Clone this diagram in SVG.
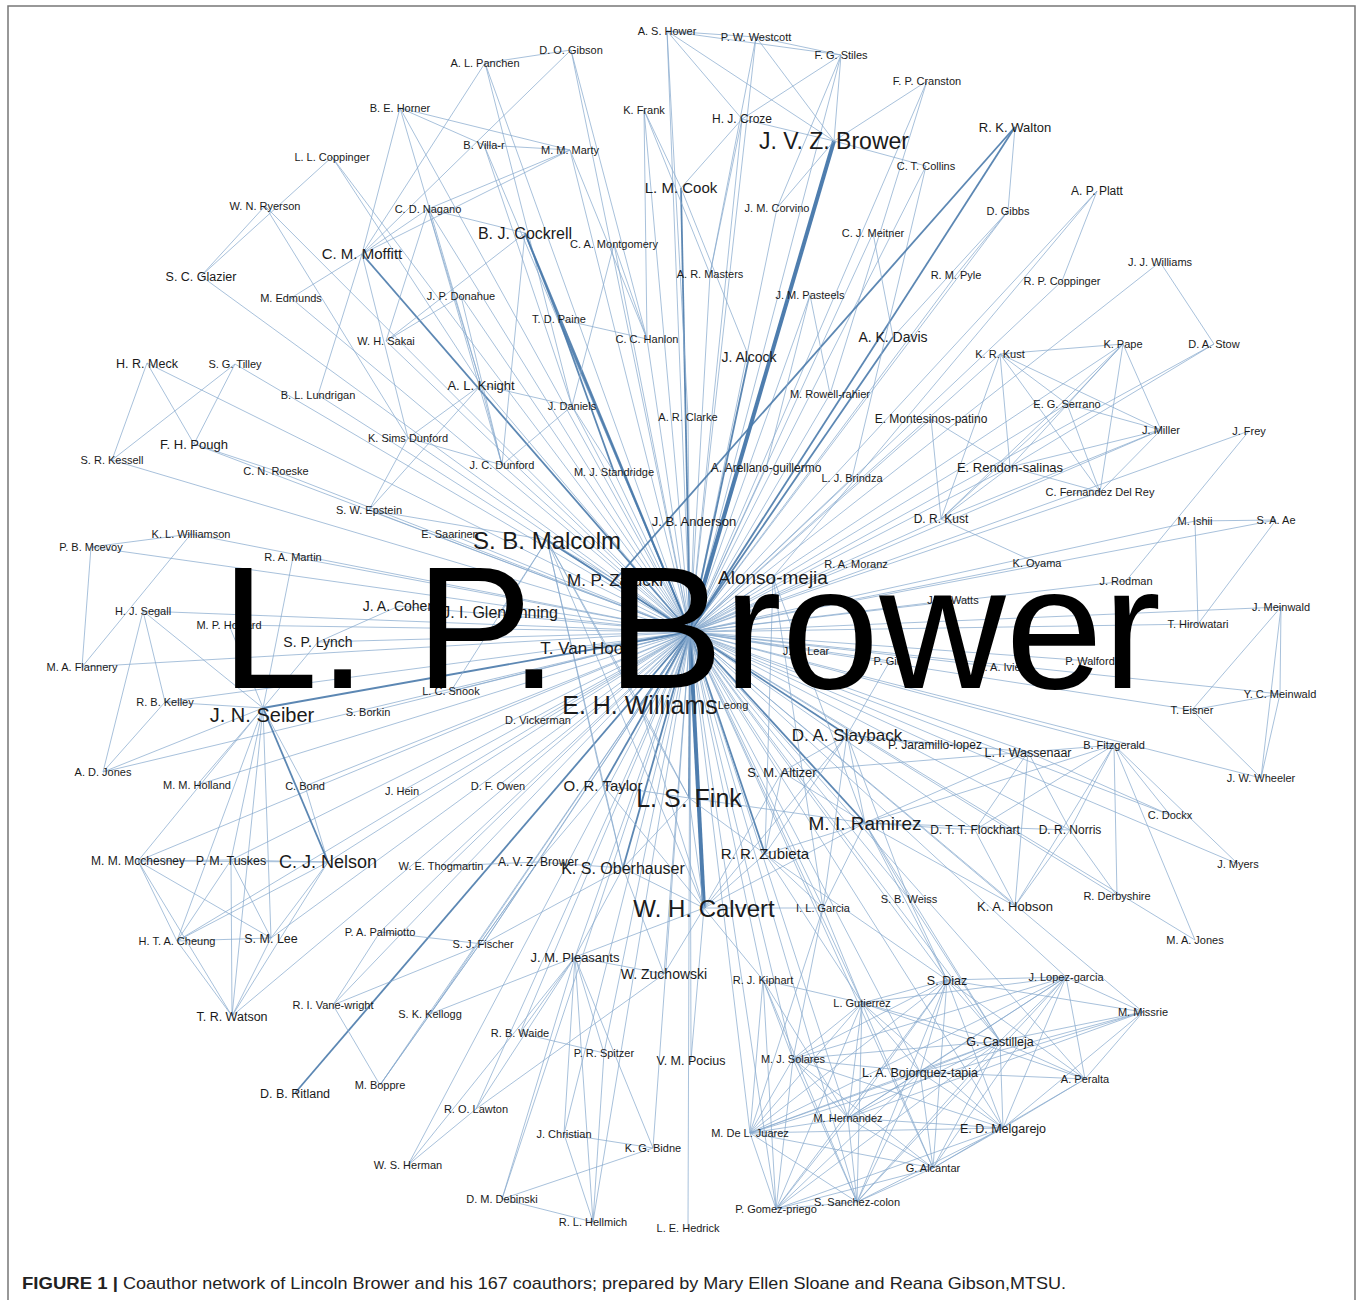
<svg xmlns="http://www.w3.org/2000/svg" width="1360" height="1300" viewBox="0 0 1360 1300">
<style>
#edges path{fill:none;stroke:#86a9cd;stroke-width:0.8;stroke-opacity:0.9}
#edges path.d{stroke:#4a7aab;stroke-width:1.8}
#edges path.D{stroke:#3b6fa5;stroke-width:4}
text{font-family:"Liberation Sans",Arial,Helvetica,sans-serif;fill:#1a1a1a;text-anchor:middle;font-size:11px}
.f12{font-size:12px}.f125{font-size:12.5px}.f13{font-size:13px}.f14{font-size:14px}.f15{font-size:15px}.f16{font-size:16px}.f17{font-size:17px}.f18{font-size:18px}.f19{font-size:19px}.f20{font-size:20px}.f23{font-size:23px}.f24{font-size:24px}.f25{font-size:25px}
.hub{font-size:175px;fill:#000}
.cap{text-anchor:start;font-size:17px;fill:#222}
</style>
<rect width="1360" height="1300" fill="#fff"/>
<path d="M8 1300V6H1355V1300" fill="none" stroke="#777" stroke-width="1.5"/>
<g id="edges">
<!-- hub edges -->
<path d="M690 632L667 31"/><path d="M690 632L756 37"/><path d="M690 632L571 50"/><path d="M690 632L485 63"/><path d="M690 632L841 55"/><path d="M690 632L927 81"/><path d="M690 632L400 108"/><path d="M690 632L644 110"/><path d="M690 632L742 119"/><path class="d" d="M690 632L1015 127"/><path class="D" d="M690 632L834 141"/><path d="M690 632L484 145"/><path d="M690 632L570 150"/><path d="M690 632L332 157"/><path d="M690 632L926 166"/><path class="d" d="M690 632L681 188"/><path d="M690 632L1097 191"/><path d="M690 632L265 206"/><path d="M690 632L428 209"/><path d="M690 632L777 208"/><path d="M690 632L1008 211"/><path class="d" d="M690 632L525 233"/><path d="M690 632L873 233"/><path d="M690 632L614 244"/><path class="d" d="M690 632L362 254"/><path d="M690 632L1160 262"/><path d="M690 632L710 274"/><path d="M690 632L956 275"/><path d="M690 632L201 276"/><path d="M690 632L1062 281"/><path d="M690 632L291 298"/><path d="M690 632L461 296"/><path d="M690 632L810 295"/><path class="d" d="M690 632L559 319"/><path d="M690 632L647 339"/><path d="M690 632L386 341"/><path class="d" d="M690 632L893 337"/><path d="M690 632L1000 354"/><path d="M690 632L1123 344"/><path d="M690 632L1214 344"/><path class="d" d="M690 632L749 357"/><path d="M690 632L147 363"/><path d="M690 632L235 364"/><path d="M690 632L481 385"/><path d="M690 632L830 394"/><path d="M690 632L318 395"/><path d="M690 632L1067 404"/><path d="M690 632L572 406"/><path d="M690 632L688 417"/><path d="M690 632L931 419"/><path d="M690 632L1161 430"/><path d="M690 632L1249 431"/><path d="M690 632L408 438"/><path d="M690 632L194 444"/><path d="M690 632L112 460"/><path d="M690 632L276 471"/><path d="M690 632L502 465"/><path d="M690 632L614 472"/><path d="M690 632L766 468"/><path d="M690 632L1010 467"/><path d="M690 632L852 478"/><path d="M690 632L1100 492"/><path d="M690 632L369 510"/><path d="M690 632L941 519"/><path d="M690 632L694 521"/><path d="M690 632L1195 521"/><path d="M690 632L1276 520"/><path d="M690 632L191 534"/><path d="M690 632L450 534"/><path class="d" d="M690 632L547 540"/><path d="M690 632L91 547"/><path d="M690 632L293 557"/><path d="M690 632L856 564"/><path d="M690 632L1037 563"/><path d="M690 632L615 580"/><path d="M690 632L773 577"/><path d="M690 632L1126 581"/><path d="M690 632L953 600"/><path d="M690 632L399 606"/><path d="M690 632L500 612"/><path d="M690 632L143 611"/><path d="M690 632L1281 607"/><path d="M690 632L229 625"/><path d="M690 632L1198 624"/><path d="M690 632L318 642"/><path d="M690 632L586 648"/><path d="M690 632L82 667"/><path d="M690 632L806 651"/><path d="M690 632L890 661"/><path d="M690 632L998 667"/><path d="M690 632L1090 661"/><path d="M690 632L451 691"/><path d="M690 632L165 702"/><path class="d" d="M690 632L263 708"/><path class="d" d="M690 632L640 705"/><path d="M690 632L733 705"/><path d="M690 632L368 712"/><path d="M690 632L538 720"/><path class="d" d="M690 632L847 735"/><path d="M690 632L935 745"/><path d="M690 632L1028 752"/><path d="M690 632L1114 745"/><path d="M690 632L1280 694"/><path d="M690 632L1192 710"/><path d="M690 632L103 772"/><path d="M690 632L782 772"/><path d="M690 632L1261 778"/><path d="M690 632L197 785"/><path d="M690 632L305 786"/><path d="M690 632L402 791"/><path d="M690 632L498 786"/><path class="d" d="M690 632L603 785"/><path class="d" d="M690 632L689 798"/><path d="M690 632L1170 815"/><path class="d" d="M690 632L865 823"/><path d="M690 632L975 830"/><path d="M690 632L1070 830"/><path class="d" d="M690 632L765 854"/><path d="M690 632L138 861"/><path d="M690 632L231 860"/><path d="M690 632L328 862"/><path d="M690 632L441 866"/><path d="M690 632L538 862"/><path class="d" d="M690 632L623 868"/><path d="M690 632L1238 864"/><path class="D" d="M690 632L704 908"/><path d="M690 632L823 908"/><path d="M690 632L909 899"/><path d="M690 632L1015 906"/><path d="M690 632L1117 896"/><path d="M690 632L177 941"/><path d="M690 632L271 938"/><path d="M690 632L380 932"/><path d="M690 632L1195 940"/><path d="M690 632L483 944"/><path d="M690 632L575 957"/><path d="M690 632L664 974"/><path d="M690 632L763 980"/><path d="M690 632L947 980"/><path d="M690 632L1066 977"/><path d="M690 632L232 1016"/><path d="M690 632L333 1005"/><path d="M690 632L430 1014"/><path d="M690 632L862 1003"/><path d="M690 632L1143 1012"/><path d="M690 632L520 1033"/><path d="M690 632L1000 1041"/><path d="M690 632L604 1053"/><path d="M690 632L691 1060"/><path d="M690 632L793 1059"/><path d="M690 632L920 1072"/><path d="M690 632L1085 1079"/><path class="d" d="M690 632L295 1093"/><path d="M690 632L380 1085"/><path d="M690 632L476 1109"/><path d="M690 632L848 1118"/><path d="M690 632L1003 1128"/><path d="M690 632L564 1134"/><path d="M690 632L750 1133"/><path d="M690 632L653 1148"/><path d="M690 632L408 1165"/><path d="M690 632L933 1168"/><path d="M690 632L502 1199"/><path d="M690 632L857 1202"/><path d="M690 632L776 1209"/><path d="M690 632L593 1222"/><path d="M690 632L688 1228"/>
<!-- top cluster -->
<path d="M667 31L756 37"/><path d="M667 31L841 55"/><path d="M667 31L834 141"/><path d="M667 31L742 119"/><path d="M667 31L688 417"/><path d="M756 37L841 55"/><path d="M756 37L834 141"/><path d="M756 37L710 274"/><path d="M841 55L834 141"/><path d="M841 55L742 119"/><path d="M841 55L777 208"/><path d="M742 119L834 141"/><path d="M742 119L681 188"/><path d="M742 119L710 274"/><path d="M834 141L927 81"/><path d="M834 141L926 166"/><path d="M834 141L777 208"/><path d="M927 81L830 394"/><path d="M926 166L852 478"/><path d="M644 110L647 339"/><path d="M644 110L710 274"/><path d="M644 110L681 188"/><path d="M681 188L749 357"/><path d="M1015 127L1008 211"/><path class="d" d="M1015 127L615 580"/><path d="M1008 211L956 275"/><path d="M1008 211L893 337"/><path d="M1097 191L1062 281"/><path d="M1097 191L773 577"/><path d="M1160 262L1214 344"/><path d="M873 233L893 337"/><path d="M810 295L830 394"/><path d="M810 295L766 468"/>
<!-- top-left cluster -->
<path d="M485 63L571 50"/><path d="M485 63L362 254"/><path d="M485 63L572 406"/><path d="M571 50L362 254"/><path d="M571 50L647 339"/><path d="M400 108L484 145"/><path d="M400 108L570 150"/><path d="M400 108L362 254"/><path d="M400 108L481 385"/><path d="M484 145L570 150"/><path d="M484 145L572 406"/><path d="M570 150L428 209"/><path d="M570 150L647 339"/><path d="M570 150L362 254"/><path d="M332 157L201 276"/><path d="M332 157L481 385"/><path d="M265 206L201 276"/><path d="M265 206L408 438"/><path d="M428 209L362 254"/><path d="M428 209L525 233"/><path d="M428 209L502 465"/><path d="M428 209L386 341"/><path d="M428 209L481 385"/><path class="d" d="M525 233L559 319"/><path class="d" d="M559 319L614 472"/><path d="M525 233L386 341"/><path d="M525 233L502 465"/><path d="M362 254L291 298"/><path d="M362 254L318 395"/><path d="M362 254L408 438"/><path d="M461 296L386 341"/><path d="M461 296L502 465"/><path d="M559 319L647 339"/><path d="M614 244L572 406"/><path d="M614 244L647 339"/><path d="M147 363L112 460"/><path d="M147 363L194 444"/><path d="M235 364L112 460"/><path d="M235 364L194 444"/><path d="M194 444L276 471"/><path d="M481 385L408 438"/><path d="M481 385L502 465"/><path d="M481 385L369 510"/><path d="M481 385L572 406"/><path d="M408 438L502 465"/><path d="M369 510L408 438"/><path d="M369 510L547 540"/><path d="M572 406L614 472"/><path d="M572 406L502 465"/>
<!-- left cluster -->
<path d="M191 534L91 547"/><path d="M191 534L82 667"/><path d="M91 547L82 667"/><path d="M143 611L165 702"/><path d="M143 611L103 772"/><path d="M143 611L263 708"/><path d="M165 702L103 772"/><path d="M165 702L263 708"/><path d="M103 772L263 708"/><path d="M229 625L263 708"/><path d="M318 642L263 708"/><path d="M318 642L399 606"/><path d="M197 785L263 708"/><path d="M305 786L263 708"/><path d="M305 786L328 862"/><path d="M293 557L263 708"/><path class="d" d="M263 708L328 862"/><path d="M263 708L231 860"/><path d="M263 708L138 861"/><path d="M263 708L177 941"/><path d="M263 708L271 938"/><path d="M263 708L232 1016"/><path d="M328 862L271 938"/><path d="M328 862L232 1016"/><path d="M328 862L177 941"/><path d="M328 862L231 860"/><path d="M328 862L138 861"/><path d="M271 938L232 1016"/><path d="M271 938L177 941"/><path d="M271 938L138 861"/><path d="M271 938L231 860"/><path d="M232 1016L177 941"/><path d="M232 1016L138 861"/><path d="M232 1016L231 860"/><path d="M177 941L138 861"/><path d="M177 941L231 860"/><path d="M138 861L231 860"/>
<!-- bottom-left cluster -->
<path d="M333 1005L380 1085"/><path d="M333 1005L380 932"/><path d="M333 1005L483 944"/><path d="M380 932L483 944"/><path d="M380 1085L430 1014"/><path d="M380 1085L538 862"/><path d="M430 1014L538 862"/><path d="M430 1014L575 957"/><path d="M476 1109L408 1165"/><path d="M476 1109L664 974"/><path d="M476 1109L575 957"/><path d="M408 1165L575 957"/><path d="M520 1033L604 1053"/><path d="M520 1033L575 957"/><path d="M604 1053L575 957"/><path d="M564 1134L593 1222"/><path d="M564 1134L575 957"/><path d="M502 1199L593 1222"/><path d="M502 1199L653 1148"/><path d="M502 1199L575 957"/><path d="M653 1148L575 957"/><path d="M593 1222L575 957"/><path d="M653 1148L564 1134"/><path d="M604 1053L593 1222"/><path d="M441 866L538 862"/><path d="M538 862L623 868"/><path d="M538 862L603 785"/><path d="M538 862L483 944"/><path d="M623 868L575 957"/><path d="M623 868L664 974"/><path d="M623 868L704 908"/><path d="M623 868L603 785"/><path d="M623 868L689 798"/><path d="M623 868L483 944"/><path d="M575 957L664 974"/><path d="M575 957L704 908"/>
<!-- central cluster -->
<path d="M547 540L603 785"/><path d="M547 540L689 798"/><path d="M547 540L704 908"/><path d="M547 540L623 868"/><path d="M547 540L615 580"/><path d="M547 540L640 705"/><path d="M547 540L500 612"/><path d="M547 540L451 691"/><path d="M704 908L689 798"/><path d="M704 908L765 854"/><path d="M704 908L865 823"/><path d="M704 908L847 735"/><path d="M704 908L640 705"/><path d="M704 908L603 785"/><path d="M704 908L823 908"/><path d="M704 908L664 974"/><path d="M704 908L691 1060"/><path d="M704 908L763 980"/><path d="M704 908L782 772"/><path d="M689 798L603 785"/><path d="M689 798L640 705"/><path d="M689 798L765 854"/><path d="M689 798L865 823"/><path d="M865 823L847 735"/><path d="M865 823L765 854"/><path d="M865 823L823 908"/><path d="M865 823L909 899"/><path d="M865 823L782 772"/><path d="M865 823L1015 906"/><path d="M865 823L975 830"/><path d="M865 823L1070 830"/><path d="M865 823L1028 752"/><path d="M865 823L1114 745"/><path d="M865 823L947 980"/><path d="M865 823L1000 1041"/><path d="M847 735L782 772"/><path d="M847 735L765 854"/><path d="M847 735L823 908"/><path d="M847 735L1028 752"/><path d="M847 735L935 745"/><path d="M847 735L909 899"/><path d="M765 854L823 908"/><path d="M765 854L947 980"/><path d="M765 854L862 1003"/><path d="M765 854L782 772"/><path d="M1028 752L1015 906"/><path d="M1028 752L1070 830"/><path d="M1028 752L1114 745"/><path d="M1028 752L975 830"/><path d="M1114 745L1015 906"/><path d="M1114 745L1117 896"/><path d="M1114 745L1070 830"/><path d="M1114 745L975 830"/><path d="M1070 830L1015 906"/><path d="M975 830L1015 906"/><path d="M1070 830L1117 896"/><path d="M1170 815L1028 752"/><path d="M1170 815L1114 745"/><path d="M1238 864L1114 745"/><path d="M1195 940L1114 745"/><path d="M782 772L1028 752"/><path d="M773 577L865 823"/><path d="M773 577L823 908"/><path d="M773 577L765 854"/><path d="M890 661L847 735"/><path d="M909 899L1000 1041"/><path d="M909 899L947 980"/>
<!-- southern cluster -->
<path d="M947 980L1066 977"/><path d="M947 980L1143 1012"/><path d="M947 980L1000 1041"/><path d="M947 980L920 1072"/><path d="M947 980L1085 1079"/><path d="M947 980L1003 1128"/><path d="M947 980L933 1168"/><path d="M947 980L857 1202"/><path d="M947 980L776 1209"/><path d="M947 980L750 1133"/><path d="M947 980L848 1118"/><path d="M947 980L793 1059"/><path d="M947 980L862 1003"/>
<path d="M1066 977L1143 1012"/><path d="M1066 977L1000 1041"/><path d="M1066 977L920 1072"/><path d="M1066 977L1085 1079"/><path d="M1066 977L1003 1128"/><path d="M1066 977L933 1168"/><path d="M1066 977L857 1202"/><path d="M1066 977L750 1133"/><path d="M1066 977L848 1118"/><path d="M1066 977L793 1059"/><path d="M1066 977L862 1003"/>
<path d="M1143 1012L1000 1041"/><path d="M1143 1012L920 1072"/><path d="M1143 1012L1085 1079"/><path d="M1143 1012L1003 1128"/><path d="M1143 1012L750 1133"/><path d="M1143 1012L848 1118"/>
<path d="M1000 1041L920 1072"/><path d="M1000 1041L1085 1079"/><path d="M1000 1041L1003 1128"/><path d="M1000 1041L933 1168"/><path d="M1000 1041L857 1202"/><path d="M1000 1041L776 1209"/><path d="M1000 1041L750 1133"/><path d="M1000 1041L848 1118"/><path d="M1000 1041L793 1059"/><path d="M1000 1041L862 1003"/>
<path d="M920 1072L1085 1079"/><path d="M920 1072L1003 1128"/><path d="M920 1072L933 1168"/><path d="M920 1072L857 1202"/><path d="M920 1072L776 1209"/><path d="M920 1072L750 1133"/><path d="M920 1072L848 1118"/><path d="M920 1072L793 1059"/><path d="M920 1072L862 1003"/>
<path d="M1085 1079L1003 1128"/><path d="M1085 1079L933 1168"/><path d="M1085 1079L862 1003"/>
<path d="M1003 1128L933 1168"/><path d="M1003 1128L857 1202"/><path d="M1003 1128L776 1209"/><path d="M1003 1128L750 1133"/><path d="M1003 1128L848 1118"/><path d="M1003 1128L793 1059"/><path d="M1003 1128L862 1003"/>
<path d="M933 1168L857 1202"/><path d="M933 1168L776 1209"/><path d="M933 1168L750 1133"/><path d="M933 1168L848 1118"/><path d="M933 1168L793 1059"/><path d="M933 1168L862 1003"/>
<path d="M857 1202L776 1209"/><path d="M857 1202L750 1133"/><path d="M857 1202L848 1118"/><path d="M857 1202L793 1059"/><path d="M857 1202L862 1003"/>
<path d="M776 1209L750 1133"/><path d="M776 1209L848 1118"/><path d="M776 1209L793 1059"/><path d="M776 1209L862 1003"/>
<path d="M750 1133L848 1118"/><path d="M750 1133L793 1059"/><path d="M750 1133L862 1003"/><path d="M848 1118L793 1059"/><path d="M848 1118L862 1003"/><path d="M793 1059L862 1003"/>
<path d="M763 980L750 1133"/><path d="M763 980L776 1209"/><path d="M763 980L857 1202"/><path d="M763 980L848 1118"/><path d="M763 980L793 1059"/><path d="M763 980L862 1003"/><path d="M823 908L862 1003"/><path d="M823 908L793 1059"/><path d="M823 908L750 1133"/>
<!-- right cluster -->
<path d="M1000 354L1123 344"/><path d="M1000 354L1067 404"/><path d="M1000 354L1161 430"/><path d="M1000 354L941 519"/><path d="M1000 354L1100 492"/><path d="M1000 354L1010 467"/><path d="M1123 344L1161 430"/><path d="M1123 344L1100 492"/><path d="M1123 344L1067 404"/><path d="M1123 344L941 519"/><path d="M1123 344L1010 467"/><path d="M1067 404L1161 430"/><path d="M1067 404L1100 492"/><path d="M1067 404L941 519"/><path d="M1161 430L1100 492"/><path d="M1161 430L941 519"/><path d="M1161 430L1010 467"/><path d="M1214 344L1010 467"/><path d="M1249 431L1126 581"/><path d="M1195 521L1276 520"/><path d="M1195 521L1198 624"/><path d="M1276 520L1198 624"/><path d="M1281 607L1280 694"/><path d="M1281 607L1192 710"/><path d="M1281 607L1261 778"/><path d="M1280 694L1192 710"/><path d="M1280 694L1261 778"/><path d="M1192 710L1261 778"/><path d="M931 419L1010 467"/><path d="M931 419L941 519"/><path d="M1010 467L941 519"/><path d="M1010 467L1100 492"/><path d="M1037 563L941 519"/>
</g>
<g id="nodes">
<g id="n-hower"><text x="667" y="35">A. S. Hower</text></g>
<g id="n-westcott"><text x="756" y="41">P. W. Westcott</text></g>
<g id="n-gibson"><text x="571" y="54">D. O. Gibson</text></g>
<g id="n-panchen"><text x="485" y="67">A. L. Panchen</text></g>
<g id="n-stiles"><text x="841" y="59">F. G. Stiles</text></g>
<g id="n-cranston"><text x="927" y="85">F. P. Cranston</text></g>
<g id="n-horner"><text x="400" y="112">B. E. Horner</text></g>
<g id="n-frank"><text x="644" y="114">K. Frank</text></g>
<g id="n-croze"><text class="f12" x="742" y="123">H. J. Croze</text></g>
<g id="n-walton"><text class="f13" x="1015" y="132">R. K. Walton</text></g>
<g id="n-jvzbrower"><text class="f23" x="834" y="149">J. V. Z. Brower</text></g>
<g id="n-villar"><text x="484" y="149">B. Villa-r</text></g>
<g id="n-marty"><text x="570" y="154">M. M. Marty</text></g>
<g id="n-llcoppinger"><text x="332" y="161">L. L. Coppinger</text></g>
<g id="n-collins"><text x="926" y="170">C. T. Collins</text></g>
<g id="n-cook"><text class="f15" x="681" y="193">L. M. Cook</text></g>
<g id="n-platt"><text class="f12" x="1097" y="195">A. P. Platt</text></g>
<g id="n-ryerson"><text x="265" y="210">W. N. Ryerson</text></g>
<g id="n-nagano"><text x="428" y="213">C. D. Nagano</text></g>
<g id="n-corvino"><text x="777" y="212">J. M. Corvino</text></g>
<g id="n-gibbs"><text x="1008" y="215">D. Gibbs</text></g>
<g id="n-cockrell"><text class="f16" x="525" y="239">B. J. Cockrell</text></g>
<g id="n-meitner"><text x="873" y="237">C. J. Meitner</text></g>
<g id="n-montgomery"><text x="614" y="248">C. A. Montgomery</text></g>
<g id="n-moffitt"><text class="f15" x="362" y="259">C. M. Moffitt</text></g>
<g id="n-jjwilliams"><text x="1160" y="266">J. J. Williams</text></g>
<g id="n-masters"><text x="710" y="278">A. R. Masters</text></g>
<g id="n-pyle"><text x="956" y="279">R. M. Pyle</text></g>
<g id="n-glazier"><text class="f125" x="201" y="281">S. C. Glazier</text></g>
<g id="n-rpcoppinger"><text x="1062" y="285">R. P. Coppinger</text></g>
<g id="n-edmunds"><text x="291" y="302">M. Edmunds</text></g>
<g id="n-donahue"><text x="461" y="300">J. P. Donahue</text></g>
<g id="n-pasteels"><text x="810" y="299">J. M. Pasteels</text></g>
<g id="n-paine"><text x="559" y="323">T. D. Paine</text></g>
<g id="n-hanlon"><text x="647" y="343">C. C. Hanlon</text></g>
<g id="n-sakai"><text x="386" y="345">W. H. Sakai</text></g>
<g id="n-davis"><text class="f14" x="893" y="342">A. K. Davis</text></g>
<g id="n-krkust"><text x="1000" y="358">K. R. Kust</text></g>
<g id="n-pape"><text x="1123" y="348">K. Pape</text></g>
<g id="n-stow"><text x="1214" y="348">D. A. Stow</text></g>
<g id="n-alcock"><text class="f14" x="749" y="362">J. Alcock</text></g>
<g id="n-meck"><text class="f125" x="147" y="368">H. R. Meck</text></g>
<g id="n-tilley"><text x="235" y="368">S. G. Tilley</text></g>
<g id="n-knight"><text class="f13" x="481" y="390">A. L. Knight</text></g>
<g id="n-rowellrahier"><text x="830" y="398">M. Rowell-rahier</text></g>
<g id="n-lundrigan"><text x="318" y="399">B. L. Lundrigan</text></g>
<g id="n-serrano"><text x="1067" y="408">E. G. Serrano</text></g>
<g id="n-daniels"><text x="572" y="410">J. Daniels</text></g>
<g id="n-clarke"><text x="688" y="421">A. R. Clarke</text></g>
<g id="n-montesinos"><text class="f12" x="931" y="423">E. Montesinos-patino</text></g>
<g id="n-miller"><text x="1161" y="434">J. Miller</text></g>
<g id="n-frey"><text x="1249" y="435">J. Frey</text></g>
<g id="n-simsdunford"><text x="408" y="442">K. Sims Dunford</text></g>
<g id="n-pough"><text class="f13" x="194" y="449">F. H. Pough</text></g>
<g id="n-kessell"><text x="112" y="464">S. R. Kessell</text></g>
<g id="n-roeske"><text x="276" y="475">C. N. Roeske</text></g>
<g id="n-jcdunford"><text x="502" y="469">J. C. Dunford</text></g>
<g id="n-standridge"><text x="614" y="476">M. J. Standridge</text></g>
<g id="n-arellano"><text class="f12" x="766" y="472">A. Arellano-guillermo</text></g>
<g id="n-rendon"><text class="f13" x="1010" y="472">E. Rendon-salinas</text></g>
<g id="n-brindza"><text x="852" y="482">L. J. Brindza</text></g>
<g id="n-fernandez"><text x="1100" y="496">C. Fernandez Del Rey</text></g>
<g id="n-epstein"><text x="369" y="514">S. W. Epstein</text></g>
<g id="n-drkust"><text class="f12" x="941" y="523">D. R. Kust</text></g>
<g id="n-anderson"><text class="f13" x="694" y="526">J. B. Anderson</text></g>
<g id="n-ishii"><text x="1195" y="525">M. Ishii</text></g>
<g id="n-ae"><text x="1276" y="524">S. A. Ae</text></g>
<g id="n-klwilliamson"><text x="191" y="538">K. L. Williamson</text></g>
<g id="n-saarinen"><text x="450" y="538">E. Saarinen</text></g>
<g id="n-mcevoy"><text x="91" y="551">P. B. Mcevoy</text></g>
<g id="n-martin"><text x="293" y="561">R. A. Martin</text></g>
<g id="n-moranz"><text x="856" y="568">R. A. Moranz</text></g>
<g id="n-oyama"><text x="1037" y="567">K. Oyama</text></g>
<g id="n-rodman"><text x="1126" y="585">J. Rodman</text></g>
<g id="n-watts"><text x="953" y="604">J. P. Watts</text></g>
<g id="n-segall"><text x="143" y="615">H. J. Segall</text></g>
<g id="n-jmeinwald"><text x="1281" y="611">J. Meinwald</text></g>
<g id="n-howard"><text x="229" y="629">M. P. Howard</text></g>
<g id="n-hirowatari"><text x="1198" y="628">T. Hirowatari</text></g>
<g id="n-flannery"><text x="82" y="671">M. A. Flannery</text></g>
<g id="n-lear"><text x="806" y="655">J. A. Lear</text></g>
<g id="n-gier"><text x="890" y="665">P. Gier</text></g>
<g id="n-ivie"><text x="998" y="671">M. A. Ivie</text></g>
<g id="n-walford"><text x="1090" y="665">P. Walford</text></g>
<g id="n-snook"><text x="451" y="695">L. C. Snook</text></g>
<g id="n-kelley"><text x="165" y="706">R. B. Kelley</text></g>
<g id="n-leong"><text x="733" y="709">Leong</text></g>
<g id="n-borkin"><text x="368" y="716">S. Borkin</text></g>
<g id="n-vickerman"><text x="538" y="724">D. Vickerman</text></g>
<g id="n-jaramillo"><text class="f12" x="935" y="749">P. Jaramillo-lopez</text></g>
<g id="n-wassenaar"><text class="f125" x="1028" y="757">L. I. Wassenaar</text></g>
<g id="n-fitzgerald"><text x="1114" y="749">B. Fitzgerald</text></g>
<g id="n-ycmeinwald"><text x="1280" y="698">Y. C. Meinwald</text></g>
<g id="n-eisner"><text x="1192" y="714">T. Eisner</text></g>
<g id="n-adjones"><text x="103" y="776">A. D. Jones</text></g>
<g id="n-altizer"><text class="f13" x="782" y="777">S. M. Altizer</text></g>
<g id="n-wheeler"><text x="1261" y="782">J. W. Wheeler</text></g>
<g id="n-holland"><text x="197" y="789">M. M. Holland</text></g>
<g id="n-bond"><text x="305" y="790">C. Bond</text></g>
<g id="n-hein"><text x="402" y="795">J. Hein</text></g>
<g id="n-owen"><text x="498" y="790">D. F. Owen</text></g>
<g id="n-dockx"><text x="1170" y="819">C. Dockx</text></g>
<g id="n-flockhart"><text class="f12" x="975" y="834">D. T. T. Flockhart</text></g>
<g id="n-norris"><text class="f12" x="1070" y="834">D. R. Norris</text></g>
<g id="n-mcchesney"><text class="f12" x="138" y="865">M. M. Mcchesney</text></g>
<g id="n-tuskes"><text class="f125" x="231" y="865">P. M. Tuskes</text></g>
<g id="n-thogmartin"><text x="441" y="870">W. E. Thogmartin</text></g>
<g id="n-avzbrower"><text class="f12" x="538" y="866">A. V. Z. Brower</text></g>
<g id="n-myers"><text x="1238" y="868">J. Myers</text></g>
<g id="n-garcia"><text x="823" y="912">I. L. Garcia</text></g>
<g id="n-weiss"><text x="909" y="903">S. B. Weiss</text></g>
<g id="n-hobson"><text class="f13" x="1015" y="911">K. A. Hobson</text></g>
<g id="n-derbyshire"><text x="1117" y="900">R. Derbyshire</text></g>
<g id="n-cheung"><text x="177" y="945">H. T. A. Cheung</text></g>
<g id="n-lee"><text class="f125" x="271" y="943">S. M. Lee</text></g>
<g id="n-palmiotto"><text x="380" y="936">P. A. Palmiotto</text></g>
<g id="n-majones"><text x="1195" y="944">M. A. Jones</text></g>
<g id="n-fischer"><text x="483" y="948">S. J. Fischer</text></g>
<g id="n-pleasants"><text class="f13" x="575" y="962">J. M. Pleasants</text></g>
<g id="n-zuchowski"><text class="f14" x="664" y="979">W. Zuchowski</text></g>
<g id="n-kiphart"><text x="763" y="984">R. J. Kiphart</text></g>
<g id="n-diaz"><text class="f125" x="947" y="985">S. Diaz</text></g>
<g id="n-lopezgarcia"><text x="1066" y="981">J. Lopez-garcia</text></g>
<g id="n-watson"><text class="f125" x="232" y="1021">T. R. Watson</text></g>
<g id="n-vanewright"><text x="333" y="1009">R. I. Vane-wright</text></g>
<g id="n-kellogg"><text x="430" y="1018">S. K. Kellogg</text></g>
<g id="n-gutierrez"><text x="862" y="1007">L. Gutierrez</text></g>
<g id="n-missrie"><text x="1143" y="1016">M. Missrie</text></g>
<g id="n-waide"><text x="520" y="1037">R. B. Waide</text></g>
<g id="n-castilleja"><text class="f125" x="1000" y="1046">G. Castilleja</text></g>
<g id="n-spitzer"><text x="604" y="1057">P. R. Spitzer</text></g>
<g id="n-pocius"><text class="f125" x="691" y="1065">V. M. Pocius</text></g>
<g id="n-solares"><text x="793" y="1063">M. J. Solares</text></g>
<g id="n-bojorquez"><text class="f125" x="920" y="1077">L. A. Bojorquez-tapia</text></g>
<g id="n-peralta"><text x="1085" y="1083">A. Peralta</text></g>
<g id="n-ritland"><text class="f125" x="295" y="1098">D. B. Ritland</text></g>
<g id="n-boppre"><text x="380" y="1089">M. Boppre</text></g>
<g id="n-lawton"><text x="476" y="1113">R. O. Lawton</text></g>
<g id="n-hernandez"><text x="848" y="1122">M. Hernandez</text></g>
<g id="n-melgarejo"><text class="f125" x="1003" y="1133">E. D. Melgarejo</text></g>
<g id="n-christian"><text x="564" y="1138">J. Christian</text></g>
<g id="n-juarez"><text x="750" y="1137">M. De L. Juarez</text></g>
<g id="n-bidne"><text x="653" y="1152">K. G. Bidne</text></g>
<g id="n-herman"><text x="408" y="1169">W. S. Herman</text></g>
<g id="n-alcantar"><text x="933" y="1172">G. Alcantar</text></g>
<g id="n-debinski"><text x="502" y="1203">D. M. Debinski</text></g>
<g id="n-sanchez"><text x="857" y="1206">S. Sanchez-colon</text></g>
<g id="n-gomez"><text x="776" y="1213">P. Gomez-priego</text></g>
<g id="n-hellmich"><text x="593" y="1226">R. L. Hellmich</text></g>
<g id="n-hedrick"><text x="688" y="1232">L. E. Hedrick</text></g>
<g id="n-cohen"><text class="f14" x="399" y="611">J. A. Cohen</text></g>
<g id="n-lynch"><text class="f14" x="318" y="647">S. P. Lynch</text></g>
<g id="n-seiber"><text class="f20" x="262" y="722">J. N. Seiber</text></g>
<g id="n-nelson"><text class="f18" x="328" y="868">C. J. Nelson</text></g>
<g id="n-glendinning"><text class="f16" x="500" y="618">J. I. Glendinning</text></g>
<g id="n-vanhook"><text class="f17" x="586" y="654">T. Van Hook</text></g>
<g id="n-zalucki"><text class="f17" x="615" y="586">M. P. Zalucki</text></g>
<g id="n-alonso"><text class="f19" x="773" y="584">Alonso-mejia</text></g>
<g id="n-malcolm"><text class="f24" x="547" y="549">S. B. Malcolm</text></g>
<g id="n-ehwilliams"><text class="f25" x="640" y="714">E. H. Williams</text></g>
<g id="n-slayback"><text class="f17" x="847" y="741">D. A. Slayback</text></g>
<g id="n-taylor"><text class="f15" x="603" y="791">O. R. Taylor</text></g>
<g id="n-fink"><text class="f25" x="689" y="807">L. S. Fink</text></g>
<g id="n-ramirez"><text class="f19" x="865" y="830">M. I. Ramirez</text></g>
<g id="n-zubieta"><text class="f15" x="765" y="859">R. R. Zubieta</text></g>
<g id="n-oberhauser"><text class="f16" x="623" y="874">K. S. Oberhauser</text></g>
<g id="n-calvert"><text class="f24" x="704" y="917">W. H. Calvert</text></g>
<g id="n-lpbrower"><text class="hub" x="691" y="688">L. P. Brower</text></g>
</g>
<text class="cap" x="22" y="1289" font-weight="bold" textLength="96" lengthAdjust="spacingAndGlyphs">FIGURE 1 |</text>
<text class="cap" x="123" y="1289" textLength="943" lengthAdjust="spacingAndGlyphs">Coauthor network of Lincoln Brower and his 167 coauthors; prepared by Mary Ellen Sloane and Reana Gibson,MTSU.</text>
</svg>
